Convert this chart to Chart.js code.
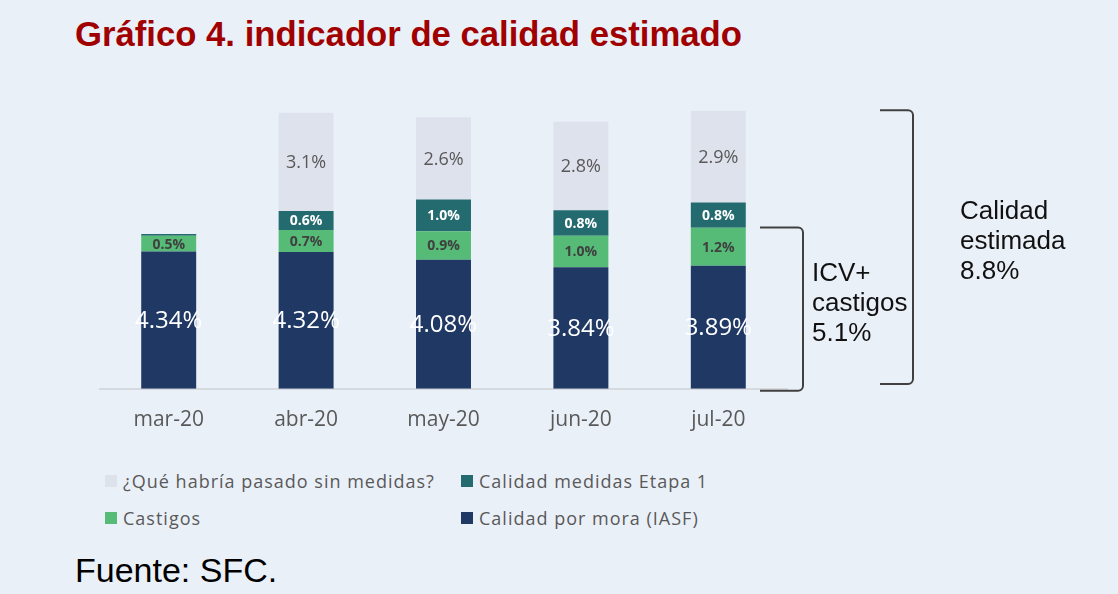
<!DOCTYPE html>
<html>
<head>
<meta charset="utf-8">
<script src="https://cdn.jsdelivr.net/npm/chart.js@4"></script>
<style>
	body { margin: 0; width: 1118px; height: 594px; overflow: hidden; position: relative; background: #EAF0F8; font-family: "Liberation Sans", Arial, sans-serif; }
	#title { position: absolute; left: 75px; top: 15px; font-size: 34.7px; font-weight: bold; color: #A00000; white-space: nowrap; }
	#wrap { position: absolute; left: 0; top: 0; width: 1118px; height: 452px; }
	#legend { position: absolute; left: 105px; top: 462px; display: grid; grid-template-columns: 356px auto; }
	.item { display: flex; align-items: center; height: 37px; font-family: "Open Sans", sans-serif; font-size: 18px; letter-spacing: 1px; color: #595959; }
	.box { width: 12px; height: 12px; margin-right: 6px; }
	#source { position: absolute; left: 75px; top: 551px; font-size: 34px; color: #000; }
</style>
</head>
<body>
<div id="title">Gráfico 4. indicador de calidad estimado</div>
<div id="wrap"><canvas id="chart"></canvas></div>
<div id="legend"></div>
<div id="source">Fuente: SFC.</div>

<script>
// data
const months = ["mar-20", "abr-20", "may-20", "jun-20", "jul-20"];
const moraIASF = [4.34, 4.32, 4.08, 3.84, 3.89];
const castigos = [0.5, 0.7, 0.9, 1.0, 1.2];
const etapa1 = [0.05, 0.6, 1.0, 0.8, 0.8];
const sinMedidas = [0, 3.1, 2.6, 2.8, 2.9];

const seriesNames = ["Calidad por mora (IASF)", "Castigos", "Calidad medidas Etapa 1", "¿Qué habría pasado sin medidas?"];
const legendOrder = [3, 2, 1, 0];

// bracket annotations on the right
const bracketTops = [5.1, 8.8];
const bracketTexts = [["ICV+", "castigos", "5.1%"], ["Calidad", "estimada", "8.8%"]];

const colors = ["#1F3864", "#55BB77", "#246B6F", "#DEE2ED"];

const ds = (i, data, labelFont, labelColor, decimals) => ({
	label: seriesNames[i],
	data: data,
	backgroundColor: colors[i],
	labelFont, labelColor, decimals,
});

const datasets = [
	ds(0, moraIASF, '24px "Open Sans"', "#FFFFFF", 2),
	ds(1, castigos, 'bold 14px "Open Sans"', "#404040", 1),
	ds(2, etapa1, 'bold 14px "Open Sans"', "#FFFFFF", 1),
	ds(3, sinMedidas, '18px "Open Sans"', "#595959", 1),
];

const segmentLabels = {
	id: "segmentLabels",
	afterDatasetsDraw(chart) {
		const ctx = chart.ctx;
		chart.data.datasets.forEach((set, i) => {
			chart.getDatasetMeta(i).data.forEach((bar, j) => {
				const v = set.data[j];
				if (v < 0.1) return;
				const c = bar.getCenterPoint();
				ctx.save();
				ctx.font = set.labelFont;
				ctx.fillStyle = set.labelColor;
				ctx.textAlign = "center";
				ctx.textBaseline = "middle";
				ctx.fillText(v.toFixed(set.decimals) + "%", c.x, c.y + 1);
				ctx.restore();
			});
		});
	}
};

function bracket(ctx, x0, x1, top, bottom) {
	const r = 5;
	ctx.beginPath();
	ctx.moveTo(x0, top);
	ctx.arcTo(x1, top, x1, top + r, r);
	ctx.arcTo(x1, bottom, x0, bottom, r);
	ctx.lineTo(x0, bottom);
	ctx.stroke();
}

const brackets = {
	id: "brackets",
	afterDraw(chart) {
		const ctx = chart.ctx, y = chart.scales.y;
		const spots = [
			{ x0: 760, x1: 803, low: -0.06, tx: 812 },
			{ x0: 880, x1: 913, low: 0.15, tx: 960 },
		];
		ctx.save();
		ctx.strokeStyle = "#404040";
		ctx.lineWidth = 2;
		spots.forEach((s, i) => {
			const top = y.getPixelForValue(bracketTops[i]);
			const bottom = y.getPixelForValue(s.low);
			bracket(ctx, s.x0, s.x1, top, bottom);
			const mid = (top + bottom) / 2 - 5;
			ctx.font = '26px "Liberation Sans"';
			ctx.fillStyle = "#111";
			ctx.textBaseline = "middle";
			bracketTexts[i].forEach((t, k) => ctx.fillText(t, s.tx, mid + (k - 1) * 30));
		});
		ctx.restore();
	}
};

new Chart(document.getElementById("chart"), {
	type: "bar",
	data: { labels: months, datasets },
	options: {
		responsive: true,
		maintainAspectRatio: false,
		animation: false,
		layout: { padding: { left: 100, right: 331, top: 85, bottom: 0 } },
		datasets: { bar: { barPercentage: 0.4, categoryPercentage: 1 } },
		scales: {
			x: {
				stacked: true,
				grid: { display: false, drawTicks: false },
				border: { display: true, color: "#D6D9DE", width: 2 },
				ticks: { color: "#595959", padding: 19, font: { family: "Open Sans", size: 21 } }
			},
			y: { stacked: true, display: false, min: 0, max: 9.6 }
		},
		plugins: { legend: { display: false }, tooltip: { enabled: false } }
	},
	plugins: [segmentLabels, brackets]
});

// legend in two columns, same order as the original
const legend = document.getElementById("legend");
legendOrder.forEach(i => {
	const item = document.createElement("div");
	item.className = "item";
	item.innerHTML = `<span class="box" style="background:${colors[i]}"></span>${seriesNames[i]}`;
	legend.append(item);
});
</script>
</body>
</html>
